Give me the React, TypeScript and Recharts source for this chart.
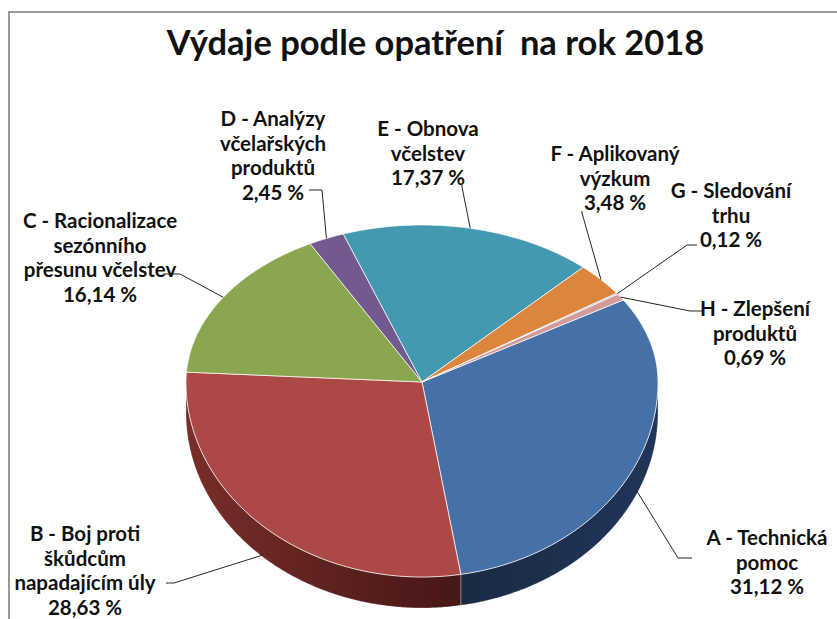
import { Cell, Pie, PieChart } from "recharts";

// share of each measure in the 2018 budget, %
const categories = [
  "A - Technická pomoc",
  "B - Boj proti škůdcům napadajícím úly",
  "C - Racionalizace sezónního přesunu včelstev",
  "D - Analýzy včelařských produktů",
  "E - Obnova včelstev",
  "F - Aplikovaný výzkum",
  "G - Sledování trhu",
  "H - Zlepšení produktů",
];
const shares = [31.12, 28.63, 16.14, 2.45, 17.37, 3.48, 0.12, 0.69];

// label text split the way Excel wrapped it
const labelLines = [
  ["A - Technická", "pomoc"],
  ["B - Boj proti", "škůdcům", "napadajícím úly"],
  ["C - Racionalizace", "sezónního", "přesunu včelstev"],
  ["D - Analýzy", "včelařských", "produktů"],
  ["E - Obnova", "včelstev"],
  ["F - Aplikovaný", "výzkum"],
  ["G - Sledování", "trhu"],
  ["H - Zlepšení", "produktů"],
];

const topColors = ["#4571a8", "#ac4845", "#8aa64f", "#72598f", "#4299b0", "#dc853d", "#93a9cf", "#d29a98"];
const sideColors = [
  ["#1b2a43", "#21355a"],
  ["#7a2d2a", "#451716"],
  ["#55682e", "#3e4d20"],
  ["#46365a", "#35284a"],
  ["#275f6e", "#1d4955"],
  ["#8c5224", "#6c3f1a"],
  ["#5b6b85", "#48566c"],
  ["#845e5d", "#6b4b4a"],
];

// hand-placed label boxes: centre x, first line centre y, leader start + bend
const labelLayout = [
  { x: 767, y: 537, leader: [[692, 558], [678, 558]] },
  { x: 85, y: 533, leader: [[166, 583], [174, 583]] },
  { x: 100, y: 220, leader: [[163, 274], [180, 274]] },
  { x: 273, y: 118, leader: [[309, 190], [322, 190]] },
  { x: 428, y: 128, leader: [[462, 185], [462, 187]] },
  { x: 615, y: 153, leader: [[582, 211], [582, 213]] },
  { x: 731, y: 190, leader: [[697, 245], [687, 245]] },
  { x: 755, y: 308, leader: [[702, 311], [690, 311]] },
];

const CX = 417;
const CY = 377;
const RX = 236;
const RY_TOP = 157 / 236;
const RY_BOTTOM = 195 / 236;
const DEPTH = 31;
const LINE_H = 24.5;
const FONT = "Lato, 'Open Sans', sans-serif";

const data = categories.map((name, i) => ({ name, value: shares[i], idx: i }));

const fmt = (v: number) => `${v.toFixed(2).replace(".", ",")} %`;

function pt(cx: number, cy: number, r: number, deg: number): [number, number] {
  const a = (deg * Math.PI) / 180;
  const s = Math.sin(a);
  return [cx + r * Math.cos(a), cy - r * (s > 0 ? RY_TOP : RY_BOTTOM) * s];
}

function Slice3D(props: any) {
  const { cx, cy, outerRadius, startAngle, endAngle, payload } = props;
  const i = payload?.idx ?? props.idx ?? 0;
  const span = endAngle - startAngle;
  const steps = Math.max(2, Math.ceil(Math.abs(span) * 2));
  const angles: number[] = [];
  for (let k = 0; k <= steps; k++) angles.push(startAngle + (span * k) / steps);

  const top = angles.map((d) => pt(cx, cy, outerRadius, d));
  const topPath =
    `M${cx},${cy} ` + top.map(([x, y]) => `L${x.toFixed(2)},${y.toFixed(2)}`).join(" ") + " Z";

  // side wall only on the front half of the ellipse
  const runs: number[][] = [];
  let cur: number[] = [];
  angles.forEach((d) => {
    if (Math.sin((d * Math.PI) / 180) <= 0.0001) cur.push(d);
    else if (cur.length) {
      runs.push(cur);
      cur = [];
    }
  });
  if (cur.length) runs.push(cur);

  return (
    <g>
      {runs
        .filter((r) => r.length > 1)
        .map((r, k) => {
          const up = r.map((d) => pt(cx, cy, outerRadius, d));
          const down = [...up].reverse().map(([x, y]) => [x, y + DEPTH]);
          const d =
            "M" + [...up, ...down].map(([x, y]) => `${x.toFixed(2)},${y.toFixed(2)}`).join(" L") + " Z";
          return <path key={k} d={d} fill={`url(#side${i})`} stroke="#ffffff" strokeOpacity={0.35} strokeWidth={0.8} />;
        })}
      <path d={topPath} fill={topColors[i]} stroke="#ffffff" strokeOpacity={0.8} strokeWidth={0.9} />
    </g>
  );
}

function renderLabel(props: any) {
  const { cx, cy, outerRadius, midAngle, index, value } = props;
  const box = labelLayout[index];
  let [ax, ay] = pt(cx, cy, outerRadius, midAngle);
  if (Math.sin((midAngle * Math.PI) / 180) < 0) ay += DEPTH * 0.9;
  const lines = [...labelLines[index], fmt(value)];
  const pts = [...box.leader, [ax, ay]].map(([x, y]) => `${x},${y}`).join(" ");
  return (
    <g key={`lbl${index}`}>
      <polyline points={pts} fill="none" stroke="#262626" strokeWidth={1} />
      {lines.map((t, k) => (
        <text
          key={k}
          x={box.x}
          y={box.y + k * LINE_H}
          textAnchor="middle"
          dominantBaseline="central"
          fontFamily={FONT}
          fontWeight={700}
          fontSize={20.5}
          fill="#111111"
        >
          {t}
        </text>
      ))}
    </g>
  );
}

export default function App() {
  return (
    <div
      style={{
        position: "absolute",
        left: 0,
        top: 0,
        width: 837,
        height: 619,
        overflow: "hidden",
        background: "#ffffff",
      }}
    >
      <div
        style={{
          position: "absolute",
          left: 8,
          top: 11,
          width: 900,
          height: 700,
          borderTop: "2px solid #9a9a9a",
          borderLeft: "2px solid #9a9a9a",
        }}
      />
      <div
        style={{
          position: "absolute",
          left: 10,
          top: 20,
          width: 851,
          textAlign: "center",
          fontFamily: FONT,
          fontWeight: 700,
          fontSize: 34.5,
          lineHeight: "44px",
          color: "#111111",
          whiteSpace: "pre",
        }}
      >
        Výdaje podle opatření  na rok 2018
      </div>
      <div style={{ position: "absolute", left: 0, top: 0 }}>
        <PieChart width={837} height={619}>
          <defs>
            {sideColors.map(([a, b], i) => (
              <linearGradient key={i} id={`side${i}`} x1="0" y1="0" x2="1" y2="0">
                <stop offset="0%" stopColor={a} />
                <stop offset="100%" stopColor={b} />
              </linearGradient>
            ))}
          </defs>
          <Pie
            data={data}
            dataKey="value"
            nameKey="name"
            cx={CX}
            cy={CY}
            outerRadius={RX}
            startAngle={31.5}
            endAngle={-328.5}
            shape={Slice3D}
            label={renderLabel}
            labelLine={false}
            isAnimationActive={false}
          >
            {data.map((d, i) => (
              <Cell key={d.name} fill={topColors[i]} />
            ))}
          </Pie>
        </PieChart>
      </div>
    </div>
  );
}
